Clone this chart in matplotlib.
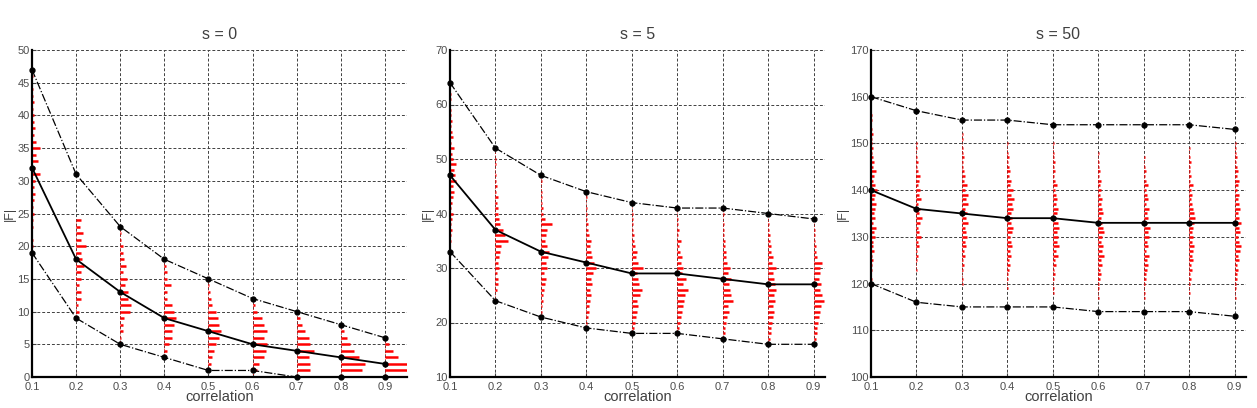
import matplotlib
matplotlib.use("Agg")
import matplotlib.pyplot as plt
import numpy as np

plt.rcParams['font.family'] = ['Liberation Sans', 'DejaVu Sans']

corr = [0.1, 0.2, 0.3, 0.4, 0.5, 0.6, 0.7, 0.8, 0.9]
titles = ['s = 0', 's = 5', 's = 50']

# median and spread lines for each panel
med = [[32, 18, 13, 9, 7, 5, 4, 3, 2],
       [47, 37, 33, 31, 29, 29, 28, 27, 27],
       [140, 136, 135, 134, 134, 133, 133, 133, 133]]
upper = [[47, 31, 23, 18, 15, 12, 10, 8, 6],
         [64, 52, 47, 44, 42, 41, 41, 40, 39],
         [160, 157, 155, 155, 154, 154, 154, 154, 153]]
lower = [[19, 9, 5, 3, 1, 1, 0, 0, 0],
         [33, 24, 21, 19, 18, 18, 17, 16, 16],
         [120, 116, 115, 115, 115, 114, 114, 114, 113]]

ylims = [(0, 50), (10, 70), (100, 170)]
ysteps = [5, 10, 10]
xright = [0.95, 0.925, 0.925]

# histograms: lowest |F| value of each column, then bar lengths (counts) going up
hist_start = [[19, 9, 5, 3, 1, 0, 0, 0, 0],
              [33, 24, 21, 19, 18, 18, 17, 16, 16],
              [121, 123, 120, 119, 118, 117, 117, 118, 117]]
hist_s0 = [
    [1, 1, 1, 0, 1, 1, 2, 1, 2, 3, 2, 3, 8, 3, 6, 4, 8, 4, 2, 3, 2, 2, 1, 2, 1, 1, 0, 1],
    [1, 3, 2, 5, 5, 3, 5, 5, 8, 6, 5, 10, 5, 7, 4, 5],
    [1, 1, 3, 3, 4, 10, 11, 8, 8, 5, 7, 3, 6, 4, 3, 3, 1, 1, 1],
    [2, 3, 5, 8, 8, 10, 12, 10, 8, 3, 3, 7, 3, 3, 2, 1],
    [2, 3, 4, 6, 8, 11, 13, 11, 10, 8, 4, 3, 2, 1, 1],
    [2, 4, 6, 11, 13, 14, 11, 14, 11, 9, 4, 2, 1],
    [8, 13, 13, 12, 17, 13, 12, 8, 5, 3, 2],
    [13, 21, 24, 18, 13, 9, 6, 3, 1],
    [15, 25, 25, 13, 8, 4, 2],
]
hist_s5 = [
    [1, 0, 1, 1, 2, 1, 2, 3, 1, 2, 3, 4, 3, 6, 5, 4, 6, 3, 2, 4, 1, 3, 2, 1, 2, 1, 1, 0, 1, 1],
    [1, 0, 2, 3, 3, 2, 4, 3, 4, 5, 6, 13, 10, 8, 5, 4, 3, 3, 2, 3, 1, 2, 1, 1, 0, 1, 1, 0, 1],
    [1, 1, 1, 2, 2, 3, 4, 5, 3, 6, 5, 7, 8, 6, 4, 5, 6, 11, 4, 2, 2, 1, 1, 1, 0, 1, 1],
    [1, 1, 2, 3, 3, 4, 5, 4, 6, 5, 7, 10, 8, 6, 5, 4, 5, 3, 2, 2, 1, 1, 1, 0, 1, 1],
    [1, 2, 3, 4, 5, 6, 5, 8, 10, 7, 6, 5, 11, 6, 4, 5, 3, 2, 2, 1, 1, 1, 1, 0, 1],
    [1, 2, 3, 4, 5, 6, 7, 8, 11, 6, 9, 5, 6, 4, 5, 3, 2, 4, 1, 2, 1, 1, 0, 1],
    [1, 2, 2, 3, 4, 6, 5, 10, 8, 7, 6, 8, 5, 7, 4, 3, 3, 2, 2, 1, 1, 1, 0, 1, 1],
    [1, 2, 3, 3, 4, 5, 6, 5, 7, 6, 8, 7, 6, 5, 8, 4, 5, 3, 3, 2, 2, 1, 1, 0, 1],
    [1, 2, 3, 3, 4, 5, 6, 7, 10, 8, 6, 7, 5, 6, 6, 8, 3, 2, 2, 1, 1, 1, 0, 1],
]
hist_s50 = [
    [1, 0, 1, 1, 2, 1, 3, 2, 2, 4, 3, 5, 2, 4, 3, 4, 5, 3, 4, 6, 4, 2, 3, 5, 2, 3, 2, 1, 2, 1, 1, 2, 1, 0, 1, 1],
    [1, 0, 1, 2, 1, 3, 2, 5, 3, 2, 4, 6, 3, 4, 2, 5, 3, 4, 2, 3, 4, 2, 1, 2, 1, 0, 1, 1],
    [1, 1, 0, 1, 2, 1, 3, 2, 4, 3, 5, 4, 3, 6, 4, 5, 3, 6, 4, 6, 3, 5, 2, 3, 2, 1, 1, 2, 1, 1, 0, 1, 1],
    [1, 0, 1, 1, 2, 3, 2, 4, 3, 5, 4, 3, 5, 6, 4, 5, 4, 6, 5, 7, 4, 6, 3, 4, 2, 3, 2, 1, 2, 1, 0, 1],
    [1, 1, 0, 1, 2, 1, 3, 2, 5, 3, 6, 4, 5, 4, 6, 5, 3, 4, 5, 3, 4, 3, 2, 4, 2, 1, 2, 1, 2, 1, 1, 0, 1],
    [1, 0, 1, 1, 2, 3, 2, 4, 3, 6, 4, 5, 3, 4, 6, 5, 4, 3, 5, 4, 3, 4, 2, 3, 2, 3, 1, 2, 1, 1, 0, 1],
    [1, 1, 0, 1, 2, 2, 3, 4, 3, 5, 2, 4, 3, 5, 4, 6, 3, 4, 3, 5, 2, 4, 3, 2, 4, 2, 1, 2, 1, 0, 1],
    [1, 0, 1, 2, 1, 3, 2, 4, 3, 4, 5, 3, 4, 3, 4, 5, 6, 5, 4, 3, 2, 3, 2, 4, 1, 2, 1, 1, 2, 1, 0, 1],
    [1, 0, 1, 1, 2, 2, 3, 2, 4, 3, 5, 6, 4, 3, 5, 4, 6, 4, 3, 5, 4, 3, 4, 2, 3, 4, 2, 3, 2, 1, 2, 1, 1, 1],
]
hists = [hist_s0, hist_s5, hist_s50]

fig = plt.figure(figsize=(12.57, 4.08), dpi=100)
lefts = [32 / 1257, 450 / 1257, 871 / 1257]
axw = 375 / 1257
axb = 1 - 377 / 408
axh = 327 / 408

for k in range(3):
    ax = fig.add_axes([lefts[k], axb, axw, axh])
    ax.set_xlim(0.1, xright[k])
    ax.set_ylim(*ylims[k])
    # scale: a count of 1 is about one pixel wide
    per_px = (xright[k] - 0.1) / 375.0

    for i, x in enumerate(corr):
        counts = hists[k][i]
        ys = hist_start[k][i] + np.arange(len(counts))
        cs = np.array(counts, dtype=float)
        m = cs > 0
        ax.hlines(ys[m], x, x + cs[m] * per_px, color='red', lw=1.8, zorder=2)
        ax.vlines(x, ys[0], ys[-1], color='red', lw=0.6, linestyles=(0, (1, 2)), zorder=2)

    ax.plot(corr, med[k], '-', color='black', lw=1.3, marker='o', ms=3.5, zorder=4, clip_on=False)
    ax.plot(corr, upper[k], '-.', color='black', lw=0.9, marker='o', ms=3.5, zorder=4, clip_on=False)
    ax.plot(corr, lower[k], '-.', color='black', lw=0.9, marker='o', ms=3.5, zorder=4, clip_on=False)

    ax.set_xticks(corr)
    ax.set_xticklabels([f'{c:.1f}' for c in corr])
    lo, hi = ylims[k]
    ax.set_yticks(np.arange(lo, hi + 1, ysteps[k]))
    ax.grid(True, color='0.25', linestyle=(0, (3, 2)), lw=0.7)
    ax.set_axisbelow(True)
    for side in ['top', 'right']:
        ax.spines[side].set_visible(False)
    for side in ['left', 'bottom']:
        ax.spines[side].set_linewidth(1.6)
    ax.tick_params(direction='in', length=3, labelsize=8, colors='0.25', labelcolor='0.3')
    ax.tick_params(axis='x', pad=3.5)
    ax.tick_params(axis='y', pad=1.5)
    ax.set_title(titles[k], fontsize=11.5, color='0.25', pad=8)
    ax.set_xlabel('correlation', fontsize=10.5, color='0.25', labelpad=-1.5)
    ax.set_ylabel('|F|', fontsize=9, color='0.25', labelpad=1)

fig.savefig('out.png', dpi=100)
